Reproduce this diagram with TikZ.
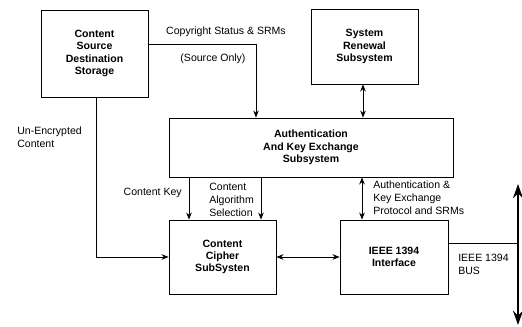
\documentclass[tikz,border=0pt]{standalone}
\usepackage{fontspec}
\setmainfont{Liberation Sans}
\usetikzlibrary{
    arrows.meta,
    calc,
    positioning
}
\tikzset{
    blockbox/.style={draw, line width=0.6pt, align=center, inner sep=0pt,
        font=\fontsize{7.5}{8.8}\selectfont\bfseries},
    lbl/.style={align=left, inner sep=0pt, font=\fontsize{7.5}{9.2}\selectfont},
    link/.style={line width=0.6pt, ->},
    dlink/.style={line width=0.6pt, <->}
}

\begin{document}
\begin{tikzpicture}[x=0.025cm, y=-0.025cm, >={Stealth[length=5pt,width=4pt]}]
    \useasboundingbox (0,0) rectangle (522,327);
    % blocks
    \node[blockbox, minimum width=107*0.025cm, minimum height=87*0.025cm] (src) at (94.5,53.5) {Content\\Source\\Destination\\Storage};
    \node[blockbox, minimum width=107*0.025cm, minimum height=75*0.025cm] (ren) at (364.5,46.5) {System\\Renewal\\Subsystem};
    \node[blockbox, minimum width=284*0.025cm, minimum height=59*0.025cm] (ake) at (311,147.5) {Authentication\\And Key Exchange\\Subsystem};
    \node[blockbox, minimum width=107*0.025cm, minimum height=74*0.025cm] (cip) at (222.5,257) {Content\\Cipher\\SubSysten};
    \node[blockbox, minimum width=108*0.025cm, minimum height=74*0.025cm] (ieee) at (394,257) {IEEE 1394\\Interface};
    \coordinate (bustop) at (518,184);
    \coordinate (busbot) at (518,325);

    % connectors
    \draw[link] (src.east |- 0,44) -| (ake.north -| 256,0);
    \draw[dlink] (ren.south -| 363,0) -- (ake.north -| 363,0);
    \draw[link] (src.south -| 96,0) |- (cip.west);
    \draw[link] (ake.south -| 189,0) -- (cip.north -| 189,0);
    \draw[link] (ake.south -| 261,0) -- (cip.north -| 261,0);
    \draw[dlink] (ake.south -| 362,0) -- (ieee.north -| 362,0);
    \draw[dlink] (cip.east) -- (ieee.west);
    \draw[line width=0.6pt] (ieee.east |- 0,243) -- (bustop |- 0,243);
    \draw[line width=2pt, {Stealth[length=10pt,width=7pt]}-{Stealth[length=10pt,width=7pt]}] (bustop) -- (busbot);

    % labels
    \node[lbl] (lcopy) at (226,32) {Copyright Status \& SRMs};
    \node[lbl] (lsrc) at (213,59) {(Source Only)};
    \node[lbl, anchor=west] (lunenc) at (17,137) {Un-Encrypted\\Content};
    \node[lbl, anchor=east] (lkey) at (182,193) {Content Key};
    \node[lbl, anchor=west] (lalg) at (209,200) {Content\\Algorithm\\Selection};
    \node[lbl, anchor=west] (lauth) at (373,198) {Authentication \&\\Key Exchange\\Protocol and SRMs};
    \node[lbl, anchor=west] (lbus) at (458,264) {IEEE 1394\\BUS};
\end{tikzpicture}
\end{document}
